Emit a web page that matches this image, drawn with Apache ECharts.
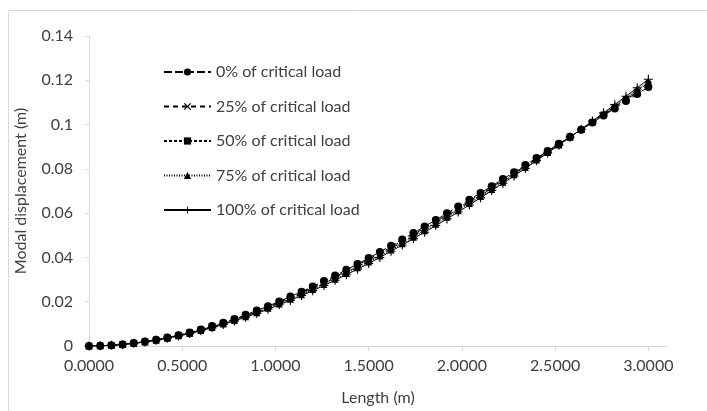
<!DOCTYPE html>
<html><head><meta charset="utf-8">
<script src="https://cdn.jsdelivr.net/npm/echarts@6/dist/echarts.min.js"></script>
<style>html,body{margin:0;padding:0;background:#fff}#c{width:707px;height:411px}</style>
</head><body><div id="c"></div>
<script>
const lengths = [0.00,0.06,0.12,0.18,0.24,0.30,0.36,0.42,0.48,0.54,0.60,0.66,0.72,0.78,0.84,0.90,0.96,1.02,1.08,1.14,1.20,1.26,1.32,1.38,1.44,1.50,1.56,1.62,1.68,1.74,1.80,1.86,1.92,1.98,2.04,2.10,2.16,2.22,2.28,2.34,2.40,2.46,2.52,2.58,2.64,2.70,2.76,2.82,2.88,2.94,3.00];
const load0 = [0,0.0001,0.0003,0.0007,0.0013,0.0020,0.0028,0.0038,0.0049,0.0061,0.0075,0.0090,0.0105,0.0122,0.0141,0.0160,0.0180,0.0201,0.0223,0.0245,0.0269,0.0293,0.0318,0.0344,0.0370,0.0397,0.0425,0.0453,0.0481,0.0510,0.0540,0.0569,0.0599,0.0630,0.0660,0.0691,0.0722,0.0754,0.0785,0.0817,0.0849,0.0881,0.0913,0.0945,0.0977,0.1009,0.1041,0.1073,0.1106,0.1138,0.1170];
const load25 = [0,0.0001,0.0003,0.0007,0.0012,0.0019,0.0027,0.0037,0.0048,0.0060,0.0073,0.0088,0.0103,0.0120,0.0138,0.0157,0.0176,0.0197,0.0219,0.0241,0.0264,0.0288,0.0313,0.0338,0.0365,0.0391,0.0419,0.0446,0.0475,0.0504,0.0533,0.0563,0.0593,0.0624,0.0655,0.0686,0.0717,0.0749,0.0781,0.0813,0.0846,0.0878,0.0911,0.0944,0.0977,0.1011,0.1044,0.1078,0.1111,0.1145,0.1179];
const load50 = [0,0.0001,0.0003,0.0007,0.0012,0.0019,0.0027,0.0036,0.0047,0.0059,0.0072,0.0086,0.0101,0.0118,0.0135,0.0154,0.0173,0.0193,0.0215,0.0237,0.0260,0.0283,0.0308,0.0333,0.0359,0.0385,0.0412,0.0440,0.0469,0.0497,0.0527,0.0557,0.0587,0.0618,0.0649,0.0680,0.0712,0.0744,0.0777,0.0810,0.0843,0.0876,0.0910,0.0944,0.0978,0.1012,0.1047,0.1082,0.1117,0.1152,0.1188];
const load75 = [0,0.0001,0.0003,0.0007,0.0012,0.0018,0.0026,0.0035,0.0046,0.0057,0.0070,0.0084,0.0099,0.0115,0.0132,0.0150,0.0170,0.0190,0.0211,0.0232,0.0255,0.0278,0.0302,0.0327,0.0353,0.0379,0.0406,0.0434,0.0462,0.0491,0.0520,0.0550,0.0581,0.0611,0.0643,0.0675,0.0707,0.0739,0.0773,0.0806,0.0840,0.0874,0.0908,0.0943,0.0978,0.1014,0.1050,0.1086,0.1122,0.1159,0.1196];
const load100 = [0,0.0001,0.0003,0.0007,0.0012,0.0018,0.0026,0.0035,0.0045,0.0056,0.0069,0.0082,0.0097,0.0113,0.0130,0.0147,0.0166,0.0186,0.0206,0.0228,0.0250,0.0273,0.0297,0.0322,0.0347,0.0373,0.0400,0.0428,0.0456,0.0485,0.0514,0.0544,0.0574,0.0605,0.0637,0.0669,0.0702,0.0735,0.0768,0.0802,0.0837,0.0872,0.0907,0.0943,0.0979,0.1016,0.1053,0.1090,0.1128,0.1166,0.1205];
const seriesNames = ['0% of critical load','25% of critical load','50% of critical load','75% of critical load','100% of critical load'];
const xTicks = [0,0.5,1.0,1.5,2.0,2.5,3.0];

const allValues = [load0, load25, load50, load75, load100];
const xSym = 'path://M0,1.2 L1.2,0 L5,3.8 L8.8,0 L10,1.2 L6.2,5 L10,8.8 L8.8,10 L5,6.2 L1.2,10 L0,8.8 L3.8,5 Z';
const plusSym = 'path://M4.4,0 L5.6,0 L5.6,4.4 L10,4.4 L10,5.6 L5.6,5.6 L5.6,10 L4.4,10 L4.4,5.6 L0,5.6 L0,4.4 L4.4,4.4 Z';
const styles = [
  {symbol:'circle', size:8, dash:[8,3]},
  {symbol:xSym, size:7, dash:[5,4]},
  {symbol:'rect', size:5, dash:[3,2]},
  {symbol:'triangle', size:7, dash:[1,1.5]},
  {symbol:plusSym, size:9, dash:'solid'}
];
const font = 'Lato';
const txt = '#404040';
const chart = echarts.init(document.getElementById('c'), null, {renderer:'canvas'});
chart.setOption({
  animation:false,
  backgroundColor:'#fff',
  graphic:[{type:'rect', shape:{x:8.5,y:10.5,width:760,height:460}, style:{fill:'none', stroke:'#d9d9d9', lineWidth:1}, silent:true, z:-10}],
  grid:{left:89, right:40, top:36, bottom:64},
  legend:{
    orient:'vertical', left:158, top:59, itemWidth:47, itemHeight:9, itemGap:18.5,
    textStyle:{fontFamily:font, fontSize:16, color:txt},
    data: seriesNames
  },
  xAxis:{
    type:'value', min:0, max:3.1,
    name:'Length (m)', nameLocation:'middle', nameGap:44,
    nameTextStyle:{fontFamily:font, fontSize:16, color:txt},
    axisLine:{show:true, lineStyle:{color:'#d9d9d9', width:1}},
    axisTick:{show:true, length:5, lineStyle:{color:'#d9d9d9'}, customValues:xTicks},
    axisLabel:{customValues:xTicks, fontFamily:font, fontSize:16, color:txt, margin:12, formatter:v=>v.toFixed(4)},
    splitLine:{show:false}
  },
  yAxis:{
    type:'value', min:0, max:0.14, interval:0.02,
    name:'Modal displacement (m)', nameLocation:'middle', nameGap:60,
    nameTextStyle:{fontFamily:font, fontSize:16, color:txt},
    axisLine:{show:true, lineStyle:{color:'#d9d9d9', width:1}},
    axisTick:{show:true, length:4, lineStyle:{color:'#d9d9d9'}},
    axisLabel:{fontFamily:font, fontSize:16, color:txt, margin:16, formatter:v=>String(parseFloat(v.toFixed(2)))},
    splitLine:{show:false}
  },
  series: allValues.map((vals,i)=>({
    name: seriesNames[i], type:'line',
    data: lengths.map((x,j)=>[x, vals[j]]),
    symbol: styles[i].symbol, symbolSize: styles[i].size, showSymbol:true,
    lineStyle:{color:'#000', width:1, type:styles[i].dash},
    itemStyle:{color:'#000'},
    emphasis:{disabled:true}
  }))
});
</script></body></html>
